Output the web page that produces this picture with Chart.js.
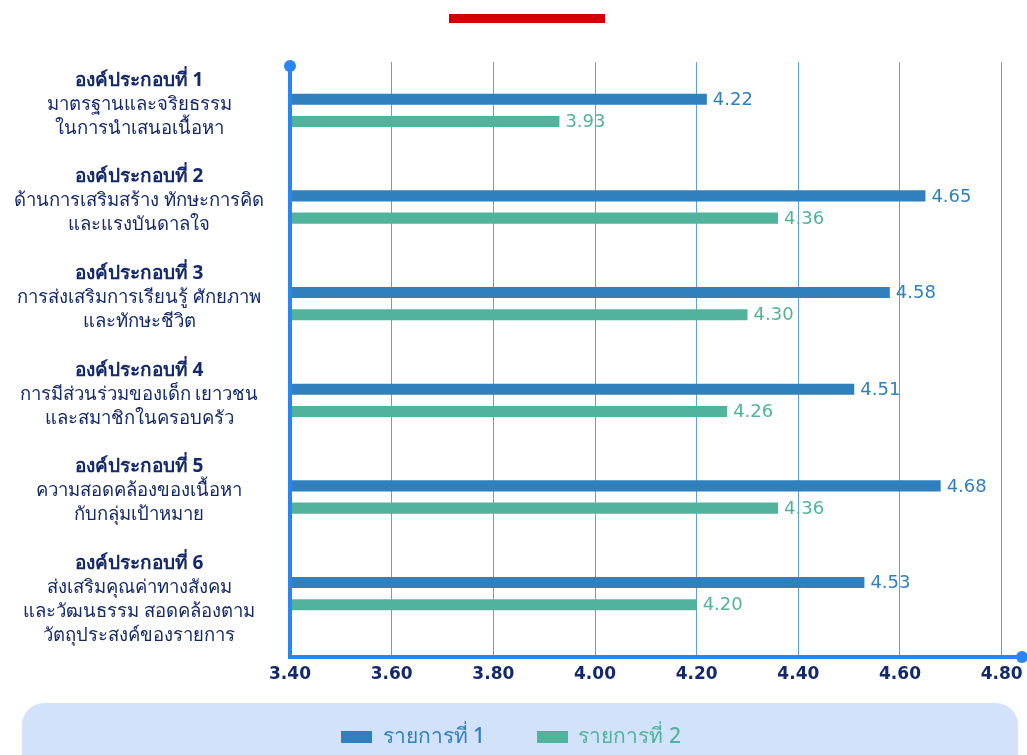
<!DOCTYPE html>
<html><head><meta charset="utf-8">
<script src="https://cdn.jsdelivr.net/npm/chart.js@4/dist/chart.umd.min.js"></script>
<style>html,body{margin:0;padding:0;background:#fff;}#wrap{width:1027px;height:755px;}</style>
</head><body><div id="wrap"><canvas id="c" width="1027" height="755"></canvas></div>
<script>
const categoryTitles = ['องค์ประกอบที่ 1','องค์ประกอบที่ 2','องค์ประกอบที่ 3','องค์ประกอบที่ 4','องค์ประกอบที่ 5','องค์ประกอบที่ 6'];
const categoryDetails = [
  ['มาตรฐานและจริยธรรม','ในการนำเสนอเนื้อหา'],
  ['ด้านการเสริมสร้าง ทักษะการคิด','และแรงบันดาลใจ'],
  ['การส่งเสริมการเรียนรู้ ศักยภาพ','และทักษะชีวิต'],
  ['การมีส่วนร่วมของเด็ก เยาวชน','และสมาชิกในครอบครัว'],
  ['ความสอดคล้องของเนื้อหา','กับกลุ่มเป้าหมาย'],
  ['ส่งเสริมคุณค่าทางสังคม','และวัฒนธรรม สอดคล้องตาม','วัตถุประสงค์ของรายการ']
];
const seriesNames = ['รายการที่ 1','รายการที่ 2'];
const series1 = [4.22, 4.65, 4.58, 4.51, 4.68, 4.53];
const series2 = [3.93, 4.36, 4.30, 4.26, 4.36, 4.20];
const xTicks = [3.40, 3.60, 3.80, 4.00, 4.20, 4.40, 4.60, 4.80];

const BLUE = '#2f80bd', GREEN = '#51b39b', NAVY = '#13296b', AXIS = '#2886f4', GRID = '#5d9df5';
const FONT = "'Noto Sans', 'DejaVu Sans', sans-serif";
const NUMFONT = "'DejaVu Sans', sans-serif";

const decor = {
  id: 'decor',
  beforeDraw(chart) {
    const ctx = chart.ctx;
    ctx.save();
    ctx.fillStyle = '#d30000';
    ctx.fillRect(449, 14, 156, 9);
    ctx.fillStyle = '#d3e2fb';
    ctx.beginPath();
    ctx.roundRect(22, 703, 996, 90, 22);
    ctx.fill();
    ctx.restore();
  },
  afterDatasetsDraw(chart) {
    const ctx = chart.ctx, a = chart.chartArea;
    ctx.save();
    // value labels
    chart.data.datasets.forEach((ds, di) => {
      const meta = chart.getDatasetMeta(di);
      meta.data.forEach((el, i) => {
        ctx.font = '18px ' + NUMFONT;
        ctx.fillStyle = ds.backgroundColor;
        ctx.textAlign = 'left';
        ctx.textBaseline = 'middle';
        ctx.fillText(ds.data[i].toFixed(2), el.x + 6, el.y + 1);
      });
    });
    // axis lines with dots
    const axisY = a.bottom + 15;
    ctx.strokeStyle = AXIS; ctx.fillStyle = AXIS; ctx.lineWidth = 4;
    ctx.beginPath();
    ctx.moveTo(a.left, a.top + 4); ctx.lineTo(a.left, axisY);
    ctx.lineTo(a.right, axisY);
    ctx.stroke();
    ctx.beginPath(); ctx.arc(a.left, a.top + 4, 6, 0, Math.PI * 2); ctx.fill();
    ctx.beginPath(); ctx.arc(a.right, axisY, 6, 0, Math.PI * 2); ctx.fill();
    // category labels
    const ys = chart.scales.y;
    ctx.fillStyle = NAVY; ctx.textAlign = 'center'; ctx.textBaseline = 'middle';
    categoryTitles.forEach((t, i) => {
      const cy = ys.getPixelForValue(i);
      let y = cy - 30;
      ctx.font = 'bold 19px ' + FONT;
      ctx.fillText(t, 139, y);
      ctx.font = '18.5px ' + FONT;
      categoryDetails[i].forEach(line => { y += 24; ctx.fillText(line, 139, y); });
    });
    ctx.restore();
  }
};

new Chart(document.getElementById('c'), {
  type: 'bar',
  data: {
    labels: categoryTitles,
    datasets: [
      { label: seriesNames[0], data: series1, backgroundColor: BLUE },
      { label: seriesNames[1], data: series2, backgroundColor: GREEN }
    ]
  },
  options: {
    indexAxis: 'y',
    responsive: false,
    animation: false,
    devicePixelRatio: 1,
    layout: { padding: { top: 62, right: 5, left: 0, bottom: -2.5 } },
    datasets: { bar: { categoryPercentage: 0.46, barPercentage: 0.5 } },
    scales: {
      x: {
        min: 3.4, max: 4.84,
        afterBuildTicks: s => { s.ticks = xTicks.map(v => ({ value: v })); },
        afterFit: s => { s.height = 74.5; s.paddingRight = 0; s.paddingLeft = 0; },
        ticks: { callback: v => Number(v).toFixed(2), color: NAVY, font: { family: NUMFONT, size: 17, weight: 'bold' }, padding: 7, maxRotation: 0 },
        grid: { color: GRID, lineWidth: 1, drawTicks: true, tickLength: 15, tickColor: GRID },
        border: { display: false }
      },
      y: {
        ticks: { display: false },
        grid: { display: false },
        border: { display: false },
        afterFit: s => { s.width = 290; }
      }
    },
    plugins: {
      legend: {
        position: 'bottom',
        labels: {
          boxWidth: 31, boxHeight: 12, padding: 10,
          font: { family: FONT, size: 21, weight: '500' },
          generateLabels: chart => Chart.defaults.plugins.legend.labels.generateLabels(chart).map((it, k) => {
            it.fontColor = chart.data.datasets[it.datasetIndex].backgroundColor;
            it.lineWidth = 0;
            if (k === 0) it.text = it.text + '\u2003\u2003';
            return it;
          })
        }
      },
      tooltip: { enabled: false }
    }
  },
  plugins: [decor]
});
</script></body></html>
